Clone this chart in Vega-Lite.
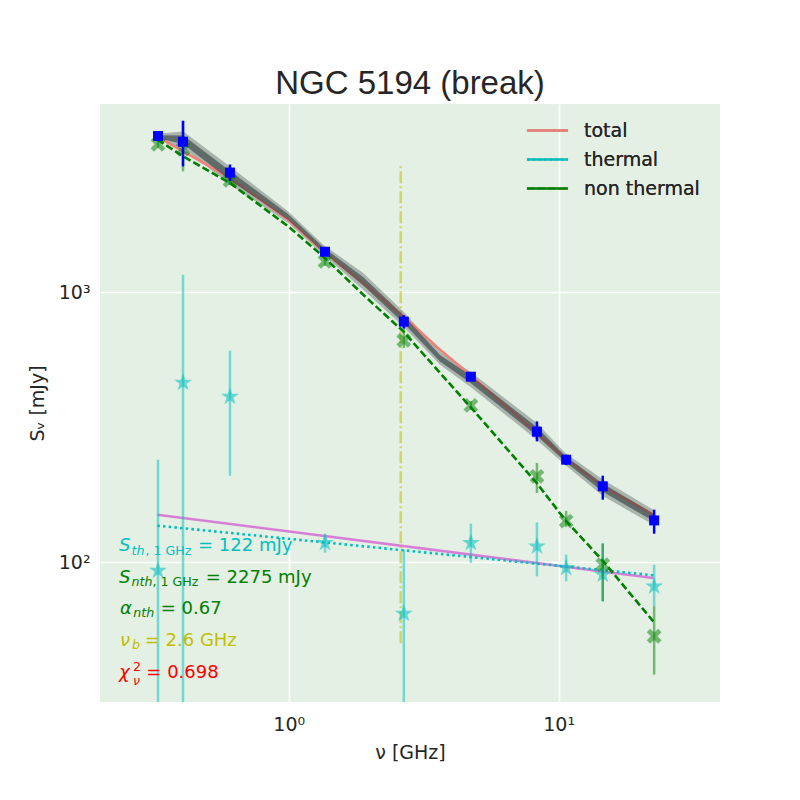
{
  "$schema": "https://vega.github.io/schema/vega-lite/v6.json",
  "description": "Radio spectrum of NGC 5194 with a break model: total, thermal and non thermal parts.",
  "width": 620,
  "height": 598,
  "autosize": {"type": "none"},
  "padding": {"left": 100, "top": 104, "right": 80, "bottom": 98},
  "background": "white",
  "title": {
    "text": "NGC 5194 (break)",
    "font": "Liberation Sans",
    "fontSize": 33,
    "fontWeight": "normal",
    "color": "#262626",
    "anchor": "middle",
    "frame": "group",
    "baseline": "alphabetic",
    "offset": 8,
    "dy": 31
  },
  "config": {
    "view": {"fill": "#e5f0e4", "stroke": null},
    "axis": {
      "domain": false,
      "ticks": false,
      "tickSize": 0,
      "grid": true,
      "gridColor": "#ffffff",
      "gridWidth": 1.6,
      "labelFont": "DejaVu Sans",
      "labelFontSize": 19,
      "labelColor": "#262626",
      "titleFont": "DejaVu Sans",
      "titleFontSize": 19,
      "titleColor": "#262626",
      "titleFontWeight": "normal"
    }
  },
  "datasets": {
    "total": [
      {"nu": 0.328, "s": 3802, "lo": 3690, "hi": 3915},
      {"nu": 0.406, "s": 3620, "lo": 2931, "hi": 4328},
      {"nu": 0.606, "s": 2782, "lo": 2590, "hi": 2980},
      {"nu": 1.363, "s": 1415, "lo": 1385, "hi": 1445},
      {"nu": 2.67, "s": 779, "lo": 735, "hi": 823},
      {"nu": 4.73, "s": 487, "lo": 475, "hi": 499},
      {"nu": 8.31, "s": 304.6, "lo": 280.4, "hi": 332.6},
      {"nu": 10.66, "s": 239.8, "lo": 229, "hi": 250},
      {"nu": 14.57, "s": 191, "lo": 170.4, "hi": 209.2},
      {"nu": 22.58, "s": 142.8, "lo": 127.5, "hi": 156.5}
    ],
    "thermal": [
      {"nu": 0.328, "s": 93, "lo": 1, "hi": 239.8},
      {"nu": 0.406, "s": 462.8, "lo": 1, "hi": 1163},
      {"nu": 0.606, "s": 410.6, "lo": 209, "hi": 608},
      {"nu": 1.363, "s": 117.8, "lo": 108.5, "hi": 127.5},
      {"nu": 2.67, "s": 64.4, "lo": 17.6, "hi": 111.2},
      {"nu": 4.73, "s": 117.8, "lo": 99.3, "hi": 138.9},
      {"nu": 8.31, "s": 114.4, "lo": 88.6, "hi": 140.4},
      {"nu": 10.66, "s": 95.2, "lo": 84.9, "hi": 106.6},
      {"nu": 14.57, "s": 89.9, "lo": 71.6, "hi": 117.8},
      {"nu": 22.58, "s": 81.3, "lo": 68.6, "hi": 97.9}
    ],
    "nonthermal": [
      {"nu": 0.328, "s": 3543, "lo": 3440, "hi": 3650},
      {"nu": 0.406, "s": 3400, "lo": 2810, "hi": 4330},
      {"nu": 0.606, "s": 2601, "lo": 2500, "hi": 2700},
      {"nu": 1.363, "s": 1303, "lo": 1255, "hi": 1350},
      {"nu": 2.67, "s": 664, "lo": 622, "hi": 759},
      {"nu": 4.73, "s": 381, "lo": 366, "hi": 396},
      {"nu": 8.31, "s": 208, "lo": 180.5, "hi": 233.2},
      {"nu": 10.66, "s": 142, "lo": 135, "hi": 155},
      {"nu": 14.57, "s": 97.9, "lo": 71.6, "hi": 117.1},
      {"nu": 22.58, "s": 53.1, "lo": 38.3, "hi": 68.6}
    ],
    "models": [
      {"series": "total", "nu": 0.3262, "s": 3780},
      {"series": "total", "nu": 0.407, "s": 3331},
      {"series": "total", "nu": 0.6064, "s": 2655},
      {"series": "total", "nu": 0.9966, "s": 1859},
      {"series": "total", "nu": 1.343, "s": 1419},
      {"series": "total", "nu": 1.889, "s": 1083},
      {"series": "total", "nu": 2.658, "s": 814.7},
      {"series": "total", "nu": 3.635, "s": 613},
      {"series": "total", "nu": 4.693, "s": 495.5},
      {"series": "total", "nu": 8.287, "s": 301.2},
      {"series": "total", "nu": 10.55, "s": 243.4},
      {"series": "total", "nu": 14.63, "s": 190.9},
      {"series": "total", "nu": 22.41, "s": 150},
      {"series": "thermal", "nu": 0.3262, "s": 136.5},
      {"series": "thermal", "nu": 22.41, "s": 89.4},
      {"series": "non thermal", "nu": 0.3262, "s": 3683},
      {"series": "non thermal", "nu": 0.407, "s": 3192},
      {"series": "non thermal", "nu": 0.6064, "s": 2544},
      {"series": "non thermal", "nu": 0.9966, "s": 1756},
      {"series": "non thermal", "nu": 1.343, "s": 1359},
      {"series": "non thermal", "nu": 1.889, "s": 980},
      {"series": "non thermal", "nu": 2.658, "s": 717},
      {"series": "non thermal", "nu": 3.635, "s": 502.8},
      {"series": "non thermal", "nu": 4.693, "s": 378},
      {"series": "non thermal", "nu": 8.287, "s": 196.6},
      {"series": "non thermal", "nu": 10.55, "s": 143.7},
      {"series": "non thermal", "nu": 14.63, "s": 100.7},
      {"series": "non thermal", "nu": 22.41, "s": 60.3}
    ],
    "fit": [
      {"nu": 0.3262, "s": 150},
      {"nu": 22.41, "s": 87.4}
    ],
    "bandOuter": [
      {"nu": 0.3262, "lo": 3683, "hi": 3875},
      {"nu": 0.407, "lo": 3429, "hi": 3951},
      {"nu": 0.6064, "lo": 2507, "hi": 2931},
      {"nu": 0.9966, "lo": 1808, "hi": 1996},
      {"nu": 1.343, "lo": 1379, "hi": 1502},
      {"nu": 1.889, "lo": 1023, "hi": 1180},
      {"nu": 2.658, "lo": 748, "hi": 850.5},
      {"nu": 3.635, "lo": 539.5, "hi": 602.8},
      {"nu": 4.693, "lo": 448.3, "hi": 509.6},
      {"nu": 8.287, "lo": 284.5, "hi": 328.9},
      {"nu": 10.55, "lo": 229.8, "hi": 254.6},
      {"nu": 14.63, "lo": 175.4, "hi": 202.2},
      {"nu": 22.41, "lo": 137.7, "hi": 156.5}
    ],
    "bandInner": [
      {"nu": 0.3262, "lo": 3731, "hi": 3827},
      {"nu": 0.407, "lo": 3553, "hi": 3814},
      {"nu": 0.6064, "lo": 2606, "hi": 2818},
      {"nu": 0.9966, "lo": 1854, "hi": 1948},
      {"nu": 1.343, "lo": 1409, "hi": 1471},
      {"nu": 1.889, "lo": 1060, "hi": 1139},
      {"nu": 2.658, "lo": 772, "hi": 824},
      {"nu": 3.635, "lo": 555, "hi": 586},
      {"nu": 4.693, "lo": 463, "hi": 494},
      {"nu": 8.287, "lo": 295, "hi": 317},
      {"nu": 10.55, "lo": 236, "hi": 248},
      {"nu": 14.63, "lo": 182, "hi": 195},
      {"nu": 22.41, "lo": 142, "hi": 151.6}
    ],
    "brk": [
      {"nu": 2.6, "lo": 50, "hi": 3000}
    ],
    "mainIt": [
      {"nu": 0.2351, "s": 109.65, "t": "S", "p": "th"},
      {"nu": 0.2351, "s": 83.7, "t": "S", "p": "nth"},
      {"nu": 0.2371, "s": 64.3, "t": "α", "p": "alpha"},
      {"nu": 0.2371, "s": 48.75, "t": "ν", "p": "nub"},
      {"nu": 0.2351, "s": 37.23, "t": "χ", "p": "chi"}
    ],
    "subIt": [
      {"nu": 0.2617, "s": 106.6, "t": "th", "p": "th"},
      {"nu": 0.2617, "s": 81.5, "t": "nth", "p": "nth"},
      {"nu": 0.2657, "s": 62.8, "t": "nth", "p": "alpha"},
      {"nu": 0.2628, "s": 47.6, "t": "b", "p": "nub"},
      {"nu": 0.265, "s": 35.1, "t": "ν", "p": "chi"}
    ],
    "subUp": [
      {"nu": 0.2949, "s": 106.6, "t": ", 1 GHz", "p": "th"},
      {"nu": 0.313, "s": 81.5, "t": ", 1 GHz", "p": "nth"},
      {"nu": 0.265, "s": 39.6, "t": "2", "p": "chi"}
    ],
    "mainUp": [
      {"nu": 0.4614, "s": 109.65, "t": "= 122 mJy", "p": "th"},
      {"nu": 0.4928, "s": 83.7, "t": "= 2275 mJy", "p": "nth"},
      {"nu": 0.3357, "s": 64.3, "t": "= 0.67", "p": "alpha"},
      {"nu": 0.2929, "s": 48.75, "t": "= 2.6 GHz", "p": "nub"},
      {"nu": 0.297, "s": 37.23, "t": "= 0.698", "p": "chi"}
    ]
  },
  "encoding": {
    "x": {
      "field": "nu",
      "type": "quantitative",
      "title": "ν [GHz]",
      "scale": {"type": "log", "domain": [0.2, 39.6], "nice": false},
      "axis": {
        "values": [1, 10],
        "labelExpr": "datum.value < 5 ? '10⁰' : '10¹'",
        "labelPadding": 28,
        "labelBaseline": "alphabetic",
        "titleY": 56,
        "titleBaseline": "alphabetic"
      }
    },
    "y": {
      "field": "s",
      "type": "quantitative",
      "title": "Sᵥ [mJy]",
      "scale": {"type": "log", "domain": [30.3, 4995], "nice": false},
      "axis": {
        "values": [100, 1000],
        "labelExpr": "datum.value < 500 ? '10²' : '10³'",
        "labelPadding": 10,
        "labelBaseline": "middle",
        "titleX": -56.5,
        "titleBaseline": "alphabetic"
      }
    }
  },
  "resolve": {"scale": {"color": "independent"}},
  "layer": [
    {
      "data": {"name": "brk"},
      "mark": {"type": "rule", "color": "#bfbf00", "opacity": 0.55, "strokeWidth": 2.5, "strokeDash": [12, 3, 2, 3]},
      "encoding": {
        "y": {"field": "lo", "type": "quantitative", "title": "Sᵥ [mJy]", "scale": {"type": "log", "domain": [30.3, 4995], "nice": false}},
        "y2": {"field": "hi"}
      }
    },
    {
      "data": {"name": "fit"},
      "mark": {"type": "line", "color": "#d77fd6", "strokeWidth": 2.5, "clip": true}
    },
    {
      "data": {"name": "bandOuter"},
      "mark": {"type": "area", "color": "#3a4646", "opacity": 0.35, "clip": true},
      "encoding": {
        "y": {"field": "lo", "type": "quantitative", "title": "Sᵥ [mJy]", "scale": {"type": "log", "domain": [30.3, 4995], "nice": false}},
        "y2": {"field": "hi"}
      }
    },
    {
      "data": {"name": "models"},
      "mark": {"type": "line", "strokeWidth": 2.6, "clip": true},
      "encoding": {
        "detail": {"field": "series"},
        "color": {
          "field": "series",
          "type": "nominal",
          "scale": {"domain": ["total", "thermal", "non thermal"], "range": ["#f08078", "#00bfbf", "#008000"]},
          "legend": {
            "title": null,
            "orient": "none",
            "legendX": 430,
            "legendY": 9,
            "symbolType": "M-1.3,0L1.3,0",
            "symbolSize": 1000,
            "symbolStrokeWidth": 2.5,
            "labelFont": "DejaVu Sans",
            "labelFontSize": 19,
            "labelColor": "#262626",
            "labelOffset": 19,
            "rowPadding": 1,
            "padding": 0,
            "labelLimit": 300
          }
        },
        "strokeDash": {
          "field": "series",
          "type": "nominal",
          "scale": {"domain": ["total", "thermal", "non thermal"], "range": [[1, 0], [2.5, 3.2], [7.4, 3.2]]},
          "legend": {
            "title": null,
            "orient": "none",
            "legendX": 430,
            "legendY": 9,
            "symbolType": "M-1.3,0L1.3,0",
            "symbolSize": 1000,
            "symbolStrokeWidth": 2.5,
            "labelFont": "DejaVu Sans",
            "labelFontSize": 19,
            "labelColor": "#262626",
            "labelOffset": 19,
            "rowPadding": 1,
            "padding": 0,
            "labelLimit": 300
          }
        }
      }
    },
    {
      "data": {"name": "bandInner"},
      "mark": {"type": "area", "color": "#2f3a3a", "opacity": 0.6, "clip": true},
      "encoding": {
        "y": {"field": "lo", "type": "quantitative", "title": "Sᵥ [mJy]", "scale": {"type": "log", "domain": [30.3, 4995], "nice": false}},
        "y2": {"field": "hi"}
      }
    },
    {
      "data": {"name": "thermal"},
      "mark": {"type": "rule", "color": "#00bfbf", "opacity": 0.5, "strokeWidth": 2.5, "clip": true},
      "encoding": {
        "y": {"field": "lo", "type": "quantitative", "title": "Sᵥ [mJy]", "scale": {"type": "log", "domain": [30.3, 4995], "nice": false}},
        "y2": {"field": "hi"}
      }
    },
    {
      "data": {"name": "thermal"},
      "mark": {
        "type": "point",
        "shape": "M0,-1L0.2245,-0.309L0.951,-0.309L0.363,0.118L0.588,0.809L0,0.382L-0.588,0.809L-0.363,0.118L-0.951,-0.309L-0.2245,-0.309Z",
        "filled": true,
        "color": "#00bfbf",
        "opacity": 0.55,
        "size": 360,
        "strokeWidth": 0
      }
    },
    {
      "data": {"name": "nonthermal"},
      "mark": {"type": "rule", "color": "#008000", "opacity": 0.5, "strokeWidth": 2.5, "clip": true},
      "encoding": {
        "y": {"field": "lo", "type": "quantitative", "title": "Sᵥ [mJy]", "scale": {"type": "log", "domain": [30.3, 4995], "nice": false}},
        "y2": {"field": "hi"}
      }
    },
    {
      "data": {"name": "nonthermal"},
      "mark": {
        "type": "point",
        "shape": "M0.495,-0.919L0.919,-0.495L0.424,0L0.919,0.495L0.495,0.919L0,0.424L-0.495,0.919L-0.919,0.495L-0.424,0L-0.919,-0.495L-0.495,-0.919L0,-0.424Z",
        "filled": true,
        "color": "#008000",
        "opacity": 0.5,
        "size": 260,
        "strokeWidth": 0
      }
    },
    {
      "data": {"name": "total"},
      "mark": {"type": "rule", "color": "#0000ff", "strokeWidth": 2.5, "clip": true},
      "encoding": {
        "y": {"field": "lo", "type": "quantitative", "title": "Sᵥ [mJy]", "scale": {"type": "log", "domain": [30.3, 4995], "nice": false}},
        "y2": {"field": "hi"}
      }
    },
    {
      "data": {"name": "total"},
      "mark": {"type": "square", "color": "#0000ff", "opacity": 1, "size": 100}
    },
    {
      "data": {"name": "mainIt"},
      "mark": {"type": "text", "font": "DejaVu Sans", "fontSize": 18, "fontStyle": "italic", "align": "left", "baseline": "alphabetic"},
      "encoding": {
        "text": {"field": "t"},
        "color": {"field": "p", "type": "nominal", "scale": {"domain": ["th", "nth", "alpha", "nub", "chi"], "range": ["#00bfbf", "#008000", "#008000", "#bfbf00", "#ff0000"]}, "legend": null}
      }
    },
    {
      "data": {"name": "subIt"},
      "mark": {"type": "text", "font": "DejaVu Sans", "fontSize": 12.6, "fontStyle": "italic", "align": "left", "baseline": "alphabetic"},
      "encoding": {
        "text": {"field": "t"},
        "color": {"field": "p", "type": "nominal", "scale": {"domain": ["th", "nth", "alpha", "nub", "chi"], "range": ["#00bfbf", "#008000", "#008000", "#bfbf00", "#ff0000"]}, "legend": null}
      }
    },
    {
      "data": {"name": "subUp"},
      "mark": {"type": "text", "font": "DejaVu Sans", "fontSize": 12.6, "align": "left", "baseline": "alphabetic"},
      "encoding": {
        "text": {"field": "t"},
        "color": {"field": "p", "type": "nominal", "scale": {"domain": ["th", "nth", "alpha", "nub", "chi"], "range": ["#00bfbf", "#008000", "#008000", "#bfbf00", "#ff0000"]}, "legend": null}
      }
    },
    {
      "data": {"name": "mainUp"},
      "mark": {"type": "text", "font": "DejaVu Sans", "fontSize": 18, "align": "left", "baseline": "alphabetic"},
      "encoding": {
        "text": {"field": "t"},
        "color": {"field": "p", "type": "nominal", "scale": {"domain": ["th", "nth", "alpha", "nub", "chi"], "range": ["#00bfbf", "#008000", "#008000", "#bfbf00", "#ff0000"]}, "legend": null}
      }
    }
  ]
}
